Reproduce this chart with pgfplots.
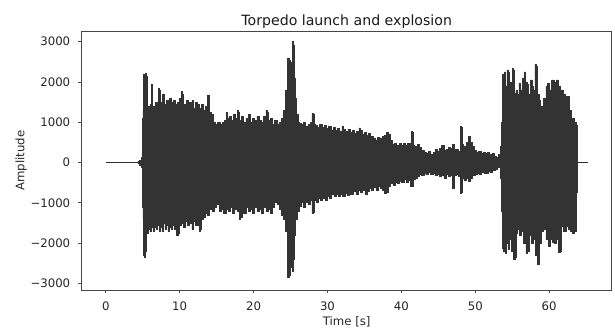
\documentclass[border=0pt]{standalone}
\usepackage{fontspec}
\setmainfont{DejaVu Sans}
\usepackage{pgfplots}
\usepackage{pgfplotstable}
\pgfplotsset{compat=1.18}
\usepgfplotslibrary{fillbetween}
\usetikzlibrary{calc}
\definecolor{sig}{RGB}{51,51,51}
\definecolor{spine}{RGB}{70,70,70}

\pgfplotstableread{
t u
4.3 20
4.7 60
4.9 120
5.0 1100
5.05 1300
5.15 2200
5.3 2150
5.4 2220
5.5 2150
5.6 1300
5.75 1400
5.9 1350
6.1 1450
6.2 1950
6.3 1900
6.4 1400
6.6 1350
6.8 1500
7.0 1450
7.2 1840
7.3 1800
7.4 1450
7.6 1500
7.8 1700
7.9 1650
8.0 1450
8.3 1550
8.5 1450
8.8 1600
9.0 1500
9.3 1550
9.5 1450
9.8 1500
10.1 1600
10.3 1760
10.4 1700
10.5 1400
10.8 1450
11.0 1550
11.2 1400
11.5 1500
11.8 1550
12.0 1350
12.3 1500
12.5 1450
12.8 1350
13.0 1450
13.3 1300
13.6 1400
13.9 1680
14.0 1650
14.1 1250
14.4 1200
14.7 1000
15.0 950
15.3 1000
15.6 950
15.9 1000
16.2 1050
16.4 1250
16.5 1100
16.8 1150
17.1 1050
17.4 1200
17.7 1100
17.9 1300
18.0 1250
18.2 1050
18.5 1150
18.8 1000
19.1 1100
19.4 1200
19.7 1000
20.0 1100
20.3 1050
20.6 1150
20.9 1050
21.2 1000
21.5 1150
21.8 1300
21.9 1250
22.1 1050
22.4 1100
22.7 950
23.0 1050
23.3 950
23.6 1000
23.9 1100
24.2 1300
24.5 1800
24.7 2600
24.9 2550
25.0 2300
25.15 2500
25.3 3000
25.4 2900
25.55 2100
25.75 1600
25.9 1200
26.1 1000
26.3 980
26.6 950
26.9 1000
27.2 900
27.5 950
27.8 1000
28.0 1220
28.1 1200
28.25 950
28.5 930
28.8 880
29.1 950
29.4 880
29.7 920
30.0 850
30.3 900
30.6 800
30.9 880
31.2 800
31.5 850
31.8 780
32.1 900
32.3 820
32.6 780
32.9 820
33.2 750
33.5 800
33.8 720
34.1 780
34.4 860
34.5 800
34.8 700
35.1 750
35.4 680
35.7 720
36.0 650
36.3 600
36.6 560
36.9 620
37.2 600
37.5 640
37.8 680
38.1 740
38.3 700
38.6 550
38.9 450
39.2 480
39.5 420
39.8 470
40.1 430
40.4 470
40.7 420
41.0 470
41.3 430
41.4 780
41.5 760
41.6 420
42.0 400
42.3 450
42.6 380
42.9 300
43.2 250
43.5 230
43.8 280
44.1 200
44.4 250
44.7 320
45.0 280
45.3 350
45.6 420
45.9 300
46.2 330
46.5 380
46.8 350
47.0 450
47.3 330
47.6 320
47.9 280
48.05 890
48.15 880
48.25 450
48.6 400
48.9 500
49.2 650
49.4 500
49.7 400
50.0 300
50.3 250
50.6 280
50.9 230
51.2 250
51.5 220
51.8 260
52.1 200
52.4 230
52.7 160
53.0 130
53.3 200
53.5 400
53.65 1000
53.7 2200
53.9 2100
54.0 2250
54.2 1900
54.35 2300
54.5 2250
54.7 1800
54.9 2000
55.1 2340
55.25 2300
55.4 1720
55.6 1800
55.8 1700
56.0 1970
56.2 1800
56.5 2100
56.7 2250
56.9 2000
57.1 1930
57.3 1700
57.6 2050
57.8 1900
58.0 1800
58.15 2430
58.3 2380
58.5 1700
58.7 1550
58.9 1400
59.1 1390
59.4 1600
59.7 1900
59.9 1970
60.2 1800
60.5 2050
60.8 2000
61.1 2050
61.4 1900
61.7 1800
62.0 1700
62.3 1650
62.6 1640
62.9 1300
63.2 1100
63.5 1000
63.75 930
63.8 0
}\upperenv

\pgfplotstableread{
t l
4.3 -20
4.7 -60
4.9 -120
5.0 -1100
5.05 -1400
5.1 -2300
5.25 -2350
5.4 -2200
5.5 -1700
5.7 -1750
5.9 -1650
6.1 -1700
6.3 -1600
6.5 -1700
6.7 -1600
6.9 -1650
7.1 -1550
7.3 -1700
7.5 -1600
7.7 -1700
7.9 -1500
8.1 -1650
8.3 -1550
8.5 -1700
8.7 -1600
8.9 -1650
9.1 -1550
9.4 -1650
9.7 -1800
9.8 -1750
10.0 -1550
10.3 -1500
10.6 -1600
10.9 -1450
11.2 -1550
11.5 -1500
11.8 -1650
12.0 -1450
12.3 -1550
12.6 -1450
12.7 -1700
12.8 -1650
13.0 -1400
13.3 -1350
13.6 -1250
13.9 -1300
14.2 -1150
14.5 -1200
14.8 -1100
15.1 -1050
15.3 -1000
15.5 -1200
15.8 -1150
16.1 -1250
16.4 -1150
16.7 -1200
17.0 -1100
17.3 -1250
17.6 -1150
17.9 -1200
18.2 -1400
18.3 -1350
18.5 -1150
18.8 -1250
19.1 -1100
19.4 -1200
19.7 -1150
20.0 -1250
20.3 -1100
20.6 -1200
20.9 -1150
21.2 -1250
21.5 -1100
21.8 -1200
22.1 -1150
22.4 -1250
22.7 -1100
23.0 -1000
23.3 -1050
23.6 -1150
23.9 -1300
24.2 -1400
24.5 -1700
24.7 -2850
24.85 -2800
25.0 -2300
25.15 -2600
25.3 -2700
25.45 -2400
25.6 -1800
25.8 -1400
26.0 -1200
26.3 -1090
26.6 -1000
26.9 -1100
27.2 -1000
27.5 -1050
27.8 -950
28.0 -1260
28.1 -1240
28.3 -950
28.6 -1000
28.9 -900
29.2 -950
29.5 -900
29.8 -950
30.1 -850
30.4 -900
30.7 -800
31.0 -850
31.3 -780
31.6 -830
31.9 -800
32.2 -850
32.5 -760
32.8 -820
33.1 -780
33.4 -800
33.7 -720
34.0 -780
34.3 -700
34.6 -750
34.9 -680
35.2 -800
35.5 -720
35.8 -650
36.1 -700
36.4 -620
36.7 -680
37.0 -600
37.3 -640
37.6 -700
37.9 -760
38.1 -740
38.4 -600
38.7 -520
39.0 -560
39.3 -480
39.6 -520
39.9 -460
40.2 -480
40.5 -420
40.8 -480
41.1 -430
41.4 -600
41.5 -580
41.7 -420
42.0 -380
42.3 -350
42.6 -300
42.9 -320
43.2 -280
43.5 -300
43.8 -250
44.1 -300
44.4 -280
44.7 -330
45.0 -300
45.3 -350
45.6 -320
45.9 -380
46.2 -300
46.5 -340
46.8 -330
47.05 -640
47.15 -620
47.3 -330
47.6 -300
47.9 -350
48.05 -760
48.15 -750
48.3 -400
48.6 -450
48.9 -380
49.2 -470
49.5 -400
49.8 -330
50.1 -300
50.4 -280
50.7 -300
51.0 -250
51.3 -280
51.6 -260
51.9 -220
52.2 -240
52.5 -200
52.8 -180
53.1 -120
53.3 -100
53.5 -400
53.65 -1200
53.7 -2120
53.9 -2200
54.1 -2250
54.3 -2000
54.5 -2150
54.8 -1900
55.0 -2200
55.3 -2410
55.45 -2350
55.6 -1750
55.9 -1660
56.1 -1800
56.4 -1700
56.7 -2000
57.0 -2250
57.2 -2200
57.4 -1800
57.7 -2000
58.0 -1900
58.3 -2300
58.5 -2540
58.6 -2530
58.8 -2000
59.1 -1700
59.4 -1650
59.7 -1900
60.0 -2080
60.3 -1900
60.5 -1990
60.8 -2000
61.1 -1900
61.4 -2230
61.55 -2200
61.8 -1590
62.1 -1700
62.4 -1580
62.7 -1650
63.0 -1700
63.3 -1750
63.6 -1700
63.75 -750
63.8 0
}\lowerenv

\begin{document}
\begin{tikzpicture}
\begin{axis}[
  scale only axis,
  width=397.5pt, height=194.25pt,
  xmin=-3.26, xmax=68.46,
  ymin=-3166, ymax=3265,
  axis line style={spine, line width=0.6pt},
  tick style={spine, line width=0.6pt},
  tick align=outside,
  major tick length=2.6pt,
  tick pos=left,
  xtick={0,10,20,30,40,50,60},
  ytick={-3000,-2000,-1000,0,1000,2000,3000},
  yticklabels={−3000,−2000,−1000,0,1000,2000,3000},
  tick label style={font=\fontsize{8.8}{10}\selectfont, text=black!85},
  xticklabel style={yshift=-2.5pt},
  yticklabel style={xshift=-2.5pt},
  /pgf/number format/assume math mode=true,
  xlabel={Time [s]},
  ylabel={Amplitude},
  label style={font=\fontsize{8.8}{10}\selectfont, text=black!85},
  xlabel style={yshift=2.5pt},
  ylabel style={yshift=-4pt},
  title={Torpedo launch and explosion},
  title style={font=\fontsize{10.6}{12}\selectfont, text=black!90, yshift=-7.5pt},
  clip=true,
]
\addplot[sig, line width=0.4pt, const plot mark mid, name path=U] table[x=t,y=u] {\upperenv};
\addplot[sig, line width=0.4pt, const plot mark mid, name path=L] table[x=t,y=l] {\lowerenv};
\addplot[sig] fill between[of=U and L];
\addplot[sig, line width=1.1pt] coordinates {(0,0) (4.4,0)};
\addplot[sig, line width=1.1pt] coordinates {(63.7,0) (65.2,0)};
\end{axis}
\pgfresetboundingbox
\path[use as bounding box] ($(current axis.south west)+(-61.3pt,-29.25pt)$) rectangle ($(current axis.north east)+(2.5pt,23.25pt)$);
\end{tikzpicture}
\end{document}
